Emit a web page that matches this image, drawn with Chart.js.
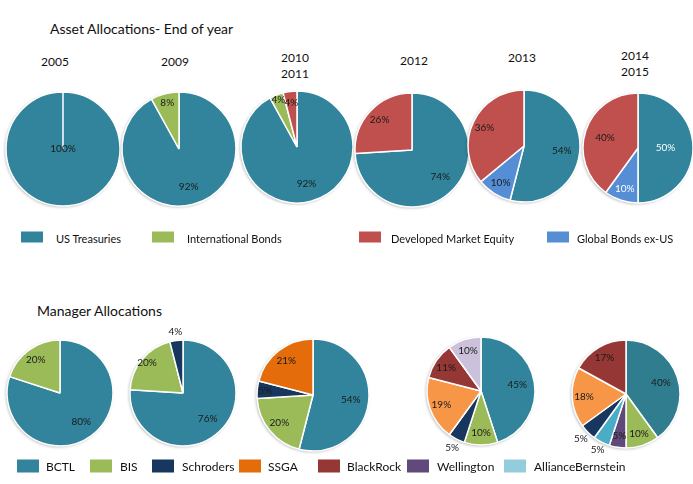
<!DOCTYPE html>
<html>
<head>
<meta charset="utf-8">
<script src="https://cdn.jsdelivr.net/npm/chart.js@4.4.1/dist/chart.umd.min.js"></script>
<style>
    body { margin: 0; background: #fff; width: 693px; height: 484px; position: relative; overflow: hidden;
           font-family: Lato, "Open Sans", sans-serif; color: #111; }
    .txt { position: absolute; white-space: nowrap; transform: translate(-50%, -50%); line-height: 16px; text-align: center; }
    .head { position: absolute; white-space: nowrap; font-size: 14px; transform: translateY(-50%); }
    .box { position: absolute; width: 22px; height: 11px; transform: translateY(-50%); }
    .lab { position: absolute; white-space: nowrap; font-size: 11px; transform: translateY(-50%); }
    canvas { position: absolute; }
</style>
</head>
<body>
<script>
// ---- data: asset allocations (slice order clockwise from 12 o'clock) ----
const assetClasses = ['US Treasuries', 'International Bonds', 'Global Bonds ex-US', 'Developed Market Equity'];
const assetColors = ['#31849B', '#9BBB59', '#558ED5', '#C0504D'];
const yearLabels = [['2005'], ['2009'], ['2010', '2011'], ['2012'], ['2013'], ['2014', '2015']];
const assets2005 = [100, 0, 0, 0];
const assets2009 = [92, 8, 0, 0];
const assets2010 = [92, 4, 0, 4];
const assets2012 = [74, 0, 0, 26];
const assets2013 = [54, 0, 10, 36];
const assets2014 = [50, 0, 10, 40];
const assetLegend = ['US Treasuries', 'International Bonds', 'Developed Market Equity', 'Global Bonds ex-US'];

// ---- data: manager allocations ----
const managers = ['BCTL', 'BIS', 'Wellington', 'AllianceBernstein', 'Schroders', 'SSGA', 'BlackRock', 'Other'];
const managerColors = ['#31849B', '#9BBB59', '#604A7B', '#4BACC6', '#17375E', '#E46C0A', '#953735', '#CCC1DA'];
const managerPie1 = [80, 20, 0, 0, 0, 0, 0, 0];
const managerPie2 = [76, 20, 0, 0, 4, 0, 0, 0];
const managerPie3 = [54, 20, 0, 0, 5, 21, 0, 0];
const managerPie4 = [45, 10, 0, 0, 5, 19, 11, 10];
const managerPie5 = [40, 10, 5, 5, 5, 18, 17, 0];
const managerLegend = ['BCTL', 'BIS', 'Schroders', 'SSGA', 'BlackRock', 'Wellington', 'AllianceBernstein'];
const legendOnlyColors = { AllianceBernstein: '#93CDDD' };

// ---- layout ----
// dist: label distance (fraction of radius) for single slices; light: white label text
const assetPies = [
    { data: assets2005, x: 63, y: 149, r: 57 },
    { data: assets2009, x: 179, y: 149, r: 57, dist: { 1: 0.83 } },
    { data: assets2010, x: 297, y: 147, r: 56, dist: { 1: 0.9, 3: 0.8 } },
    { data: assets2012, x: 412, y: 150, r: 57 },
    { data: assets2013, x: 524, y: 146, r: 56, dist: { 3: 0.78 } },
    { data: assets2014, x: 638, y: 148, r: 55, dist: { 0: 0.5, 3: 0.63 }, light: [0, 2] }
];
const yearPos = [[55, 62], [175, 62], [295, 66], [414, 61], [522, 58], [635, 64]];
const managerPies = [
    { data: managerPie1, x: 60, y: 393, r: 53 },
    { data: managerPie2, x: 183, y: 393, r: 53, dist: { 1: 0.88, 4: 1.16 } },
    { data: managerPie3, x: 313, y: 395, r: 56, dist: { 4: 0.86 } },
    { data: managerPie4, x: 481, y: 391, r: 54, dist: { 4: 1.18 }, swap: { 5: '#F79646' } },
    { data: managerPie5, x: 626, y: 394, r: 54, dist: { 3: 1.16, 4: 1.18 }, swap: { 0: '#317D90', 5: '#F79646' } }
];
const assetLegendPos = [[21, 56], [152, 187], [359, 391], [547, 577]];
const managerLegendPos = [[17, 46], [90, 120], [152, 182], [239, 268], [318, 347], [407, 437], [504, 534]];

function addText(cls, html, x, y, size) {
    const d = document.createElement('div');
    d.className = cls;
    d.innerHTML = html;
    d.style.left = x + 'px';
    d.style.top = y + 'px';
    if (size) d.style.fontSize = size + 'px';
    document.body.appendChild(d);
}

// percentage labels drawn on the slices
const sliceLabels = {
    id: 'sliceLabels',
    afterDatasetsDraw(chart, args, opts) {
        const ctx = chart.ctx;
        const values = chart.data.datasets[0].data;
        const dist = opts.dist || {};
        ctx.save();
        ctx.font = '10px Lato, sans-serif';
        ctx.textAlign = 'center';
        ctx.textBaseline = 'middle';
        chart.getDatasetMeta(0).data.forEach((arc, i) => {
            const v = values[i];
            if (!v) return;
            const p = arc.getProps(['x', 'y', 'startAngle', 'endAngle', 'outerRadius'], true);
            const mid = (p.startAngle + p.endAngle) / 2;
            let f = v < 30 ? 0.78 : 0.68;
            if (v === 100) f = 0;
            if (dist[i] !== undefined) f = dist[i];
            ctx.fillStyle = (opts.light || []).includes(i) ? '#ffffff' : '#1a1a1a';
            ctx.fillText(v + '%', p.x + Math.cos(mid) * p.outerRadius * f, p.y + Math.sin(mid) * p.outerRadius * f);
        });
        ctx.restore();
    }
};

// soft shadow under each pie
const pieShadow = {
    id: 'pieShadow',
    beforeDatasetsDraw(chart) {
        const arc = chart.getDatasetMeta(0).data[0];
        const ctx = chart.ctx;
        ctx.save();
        ctx.shadowColor = 'rgba(0,0,0,0.3)';
        ctx.shadowBlur = 3;
        ctx.shadowOffsetX = -1;
        ctx.shadowOffsetY = 1;
        ctx.fillStyle = '#ddd';
        ctx.beginPath();
        ctx.arc(arc.x, arc.y, arc.outerRadius, 0, Math.PI * 2);
        ctx.fill();
        ctx.restore();
    }
};

function makePie(pie, labels, colors) {
    const size = 140;
    const canvas = document.createElement('canvas');
    canvas.width = size;
    canvas.height = size;
    canvas.style.left = (pie.x - size / 2) + 'px';
    canvas.style.top = (pie.y - size / 2) + 'px';
    document.body.appendChild(canvas);
    const cols = colors.slice();
    Object.keys(pie.swap || {}).forEach(k => { cols[k] = pie.swap[k]; });
    new Chart(canvas.getContext('2d'), {
        type: 'pie',
        data: {
            labels: labels,
            datasets: [{
                data: pie.data,
                backgroundColor: cols,
                borderColor: '#ffffff',
                borderWidth: 1.5
            }]
        },
        options: {
            responsive: false,
            animation: false,
            radius: pie.r,
            layout: { padding: 0 },
            plugins: {
                legend: { display: false },
                tooltip: { enabled: false },
                sliceLabels: { dist: pie.dist, light: pie.light }
            }
        },
        plugins: [pieShadow, sliceLabels]
    });
}

// titles
addText('head', 'Asset Allocations- End of year', 50, 28);
addText('head', 'Manager Allocations', 37, 310);
yearLabels.forEach((lines, i) => addText('txt', lines.join('<br>'), yearPos[i][0], yearPos[i][1], 12));

// pies
assetPies.forEach(p => makePie(p, assetClasses, assetColors));
managerPies.forEach(p => makePie(p, managers, managerColors));

// legends
assetLegend.forEach((name, i) => {
    const b = document.createElement('div');
    b.className = 'box';
    b.style.left = assetLegendPos[i][0] + 'px';
    b.style.top = '237px';
    b.style.background = assetColors[assetClasses.indexOf(name)];
    document.body.appendChild(b);
    addText('lab', name, assetLegendPos[i][1], 238);
});
managerLegend.forEach((name, i) => {
    const b = document.createElement('div');
    b.className = 'box';
    b.style.left = managerLegendPos[i][0] + 'px';
    b.style.top = '466px';
    b.style.height = '13px';
    b.style.background = legendOnlyColors[name] || managerColors[managers.indexOf(name)];
    document.body.appendChild(b);
    addText('lab', name, managerLegendPos[i][1], 466, 12);
});
</script>
</body>
</html>
